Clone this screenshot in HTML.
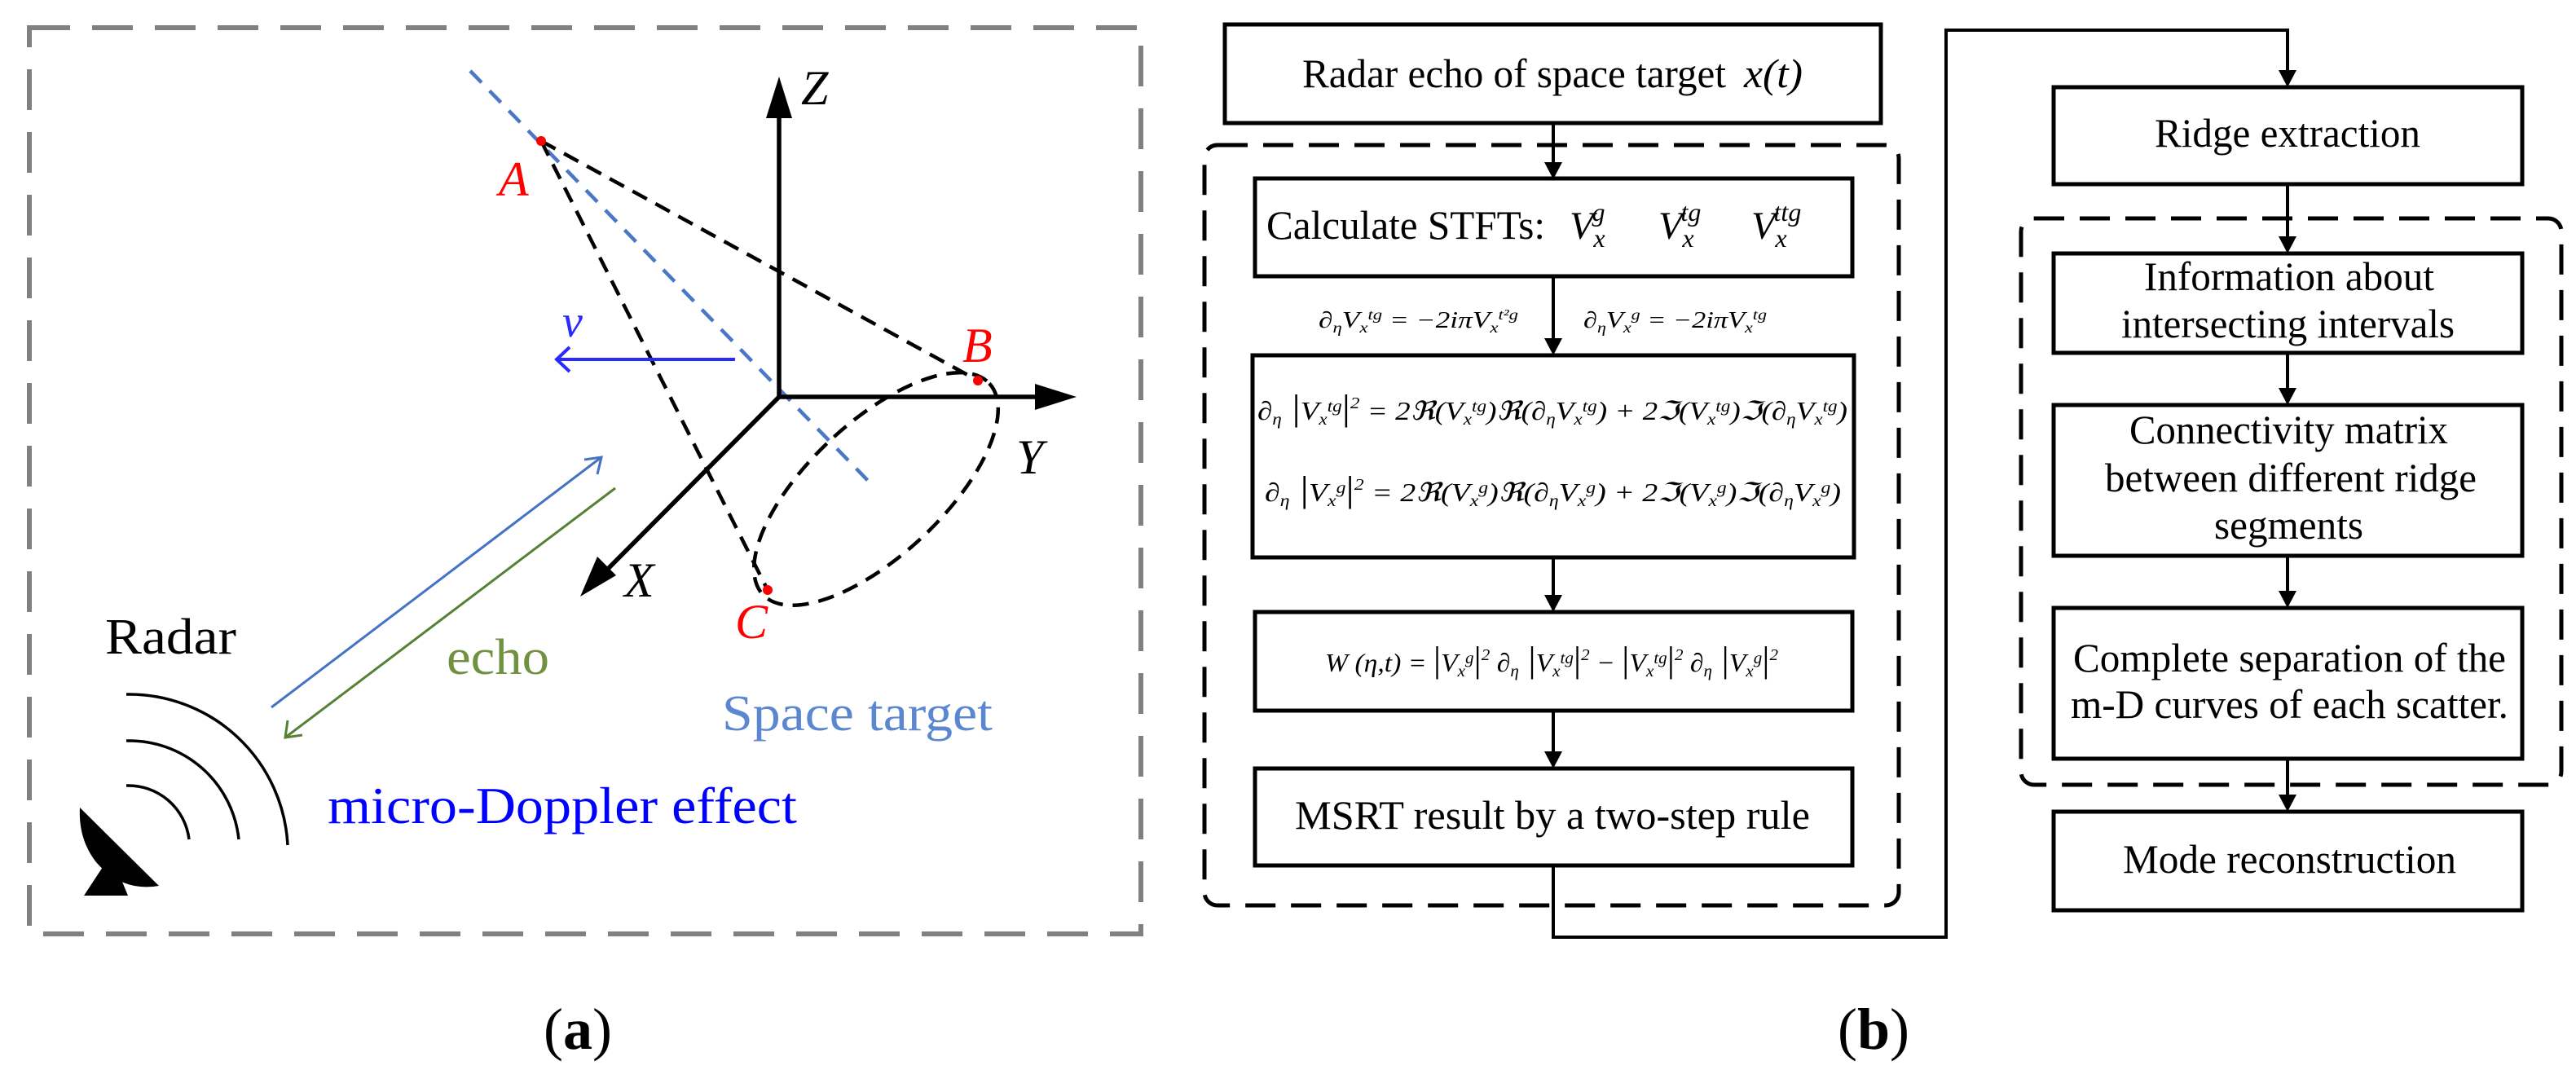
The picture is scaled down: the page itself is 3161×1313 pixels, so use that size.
<!DOCTYPE html>
<html><head><meta charset="utf-8"><style>
html,body{margin:0;padding:0;background:#fff;font-family:"Liberation Serif","Times New Roman",Times,"DejaVu Serif",serif;}
svg{display:block;}
</style></head><body>
<svg width="3161" height="1313" viewBox="0 0 3161 1313" xmlns="http://www.w3.org/2000/svg" style="font-family:'Liberation Serif','Times New Roman',Times,'DejaVu Serif',serif">
<g style="font-family:'Liberation Serif','Times New Roman',Times,'DejaVu Serif',serif">
<rect x="36" y="34" width="1364" height="1112" fill="none" stroke="#808080" stroke-width="6" stroke-dasharray="50,27"/>
<line x1="577" y1="87" x2="1074" y2="599" stroke="#4a78c6" stroke-width="4.5" stroke-dasharray="20,14"/>
<line x1="664" y1="173" x2="1200" y2="467" stroke="#000" stroke-width="4.5" stroke-dasharray="20,12"/>
<line x1="664" y1="173" x2="942" y2="724" stroke="#000" stroke-width="4.5" stroke-dasharray="20,12"/>
<ellipse cx="1075" cy="600" rx="190" ry="82" transform="rotate(-43 1075 600)" fill="none" stroke="#000" stroke-width="4.5" stroke-dasharray="20,12"/>
<line x1="956" y1="487" x2="956" y2="140" stroke="#000" stroke-width="5.5"/>
<polygon points="956,94 940,145 972,145" fill="#000"/>
<line x1="956" y1="487" x2="1275" y2="487" stroke="#000" stroke-width="5.5"/>
<polygon points="1321,487 1270,471 1270,503" fill="#000"/>
<line x1="956" y1="487" x2="740" y2="704" stroke="#000" stroke-width="5.5"/>
<polygon points="712,732 733,683 756,706" fill="#000"/>
<circle cx="664" cy="173" r="6" fill="#f00"/>
<circle cx="1200" cy="467" r="6" fill="#f00"/>
<circle cx="942" cy="724" r="6" fill="#f00"/>
<line x1="902" y1="441" x2="683" y2="441" stroke="#2a2aff" stroke-width="4"/>
<polyline points="699,426 683,441 699,456" fill="none" stroke="#2a2aff" stroke-width="4"/>
<line x1="333" y1="868" x2="738" y2="561" stroke="#4472c4" stroke-width="3"/>
<polyline points="717,564 738,561 733,582" fill="none" stroke="#4472c4" stroke-width="3"/>
<line x1="755" y1="599" x2="350" y2="905" stroke="#548235" stroke-width="3"/>
<polyline points="353,884 350,905 371,902" fill="none" stroke="#548235" stroke-width="3"/>
<path d="M155,852 A195,195 0 0 1 353,1037" fill="none" stroke="#000" stroke-width="3.5"/>
<path d="M155,909 A135,135 0 0 1 293,1030" fill="none" stroke="#000" stroke-width="3.5"/>
<path d="M155,964 A75,75 0 0 1 232,1030" fill="none" stroke="#000" stroke-width="3.5"/>
<path d="M98,991 L195,1087 Q150,1095 118,1058 Q96,1030 98,991 Z" fill="#000"/>
<polygon points="103,1099 157,1099 150,1082 126,1064" fill="#000"/>
<text x="129" y="802" font-size="62" textLength="161" lengthAdjust="spacingAndGlyphs">Radar</text>
<text x="548" y="827" font-size="62" fill="#6f9140" textLength="126" lengthAdjust="spacingAndGlyphs">echo</text>
<text x="886" y="896" font-size="62" fill="#5b87d0" textLength="332" lengthAdjust="spacingAndGlyphs">Space target</text>
<text x="402" y="1010" font-size="64" fill="#0000ff" textLength="576" lengthAdjust="spacingAndGlyphs">micro-Doppler effect</text>
<text x="612" y="240" font-size="60" fill="#f00" font-style="italic">A</text>
<text x="1181" y="444" font-size="60" fill="#f00" font-style="italic">B</text>
<text x="902" y="783" font-size="60" fill="#f00" font-style="italic">C</text>
<text x="983" y="128" font-size="60" font-style="italic">Z</text>
<text x="1247" y="581" font-size="60" font-style="italic">Y</text>
<text x="766" y="732" font-size="60" font-style="italic">X</text>
<text x="690" y="413" font-size="56" fill="#2a2aff" font-style="italic">v</text>
<text x="709" y="1287" font-size="72" text-anchor="middle">(<tspan font-weight="bold">a</tspan>)</text>

<g fill="none" stroke="#000" stroke-width="5">
<rect x="1503" y="30" width="805" height="121"/>
<rect x="1478" y="178" width="852" height="933" rx="16" stroke-dasharray="37,19"/>
<rect x="1540" y="219" width="733" height="120"/>
<rect x="1537" y="436" width="738" height="248"/>
<rect x="1540" y="751" width="733" height="121"/>
<rect x="1540" y="943" width="733" height="119"/>
<rect x="2520" y="107" width="575" height="119"/>
<rect x="2480" y="268" width="663" height="695" rx="16" stroke-dasharray="37,19"/>
<rect x="2520" y="311" width="575" height="122"/>
<rect x="2520" y="497" width="575" height="185"/>
<rect x="2520" y="746" width="575" height="185"/>
<rect x="2520" y="996" width="575" height="121"/>
</g>
<g stroke="#000" stroke-width="4" fill="none">
<line x1="1906" y1="151" x2="1906" y2="205"/>
<line x1="1906" y1="339" x2="1906" y2="420"/>
<line x1="1906" y1="684" x2="1906" y2="735"/>
<line x1="1906" y1="872" x2="1906" y2="927"/>
<polyline points="1906,1062 1906,1150 2388,1150 2388,37 2807,37 2807,92"/>
<line x1="2807" y1="226" x2="2807" y2="296"/>
<line x1="2807" y1="433" x2="2807" y2="482"/>
<line x1="2807" y1="682" x2="2807" y2="731"/>
<line x1="2807" y1="931" x2="2807" y2="981"/>
</g>
<g fill="#000">
<polygon points="1906,220 1895,199 1917,199"/>
<polygon points="1906,436 1895,415 1917,415"/>
<polygon points="1906,751 1895,730 1917,730"/>
<polygon points="1906,943 1895,922 1917,922"/>
<polygon points="2807,107 2796,86 2818,86"/>
<polygon points="2807,311 2796,290 2818,290"/>
<polygon points="2807,497 2796,476 2818,476"/>
<polygon points="2807,746 2796,725 2818,725"/>
<polygon points="2807,996 2796,975 2818,975"/>
</g>
<text x="1598" y="107" font-size="50" textLength="520" lengthAdjust="spacingAndGlyphs">Radar echo of space target</text>
<text x="2140" y="107" font-size="50" font-style="italic" textLength="72" lengthAdjust="spacingAndGlyphs">x(t)</text>
<text x="1554" y="293" font-size="50" textLength="342" lengthAdjust="spacingAndGlyphs">Calculate STFTs:</text>
<g font-size="48" font-style="italic">
<text x="1926" y="293">V<tspan font-size="32" dy="10">x</tspan><tspan font-size="32" dx="-16" dy="-32">g</tspan></text>
<text x="2035" y="293">V<tspan font-size="32" dy="10">x</tspan><tspan font-size="32" dx="-16" dy="-32">tg</tspan></text>
<text x="2149" y="293">V<tspan font-size="32" dy="10">x</tspan><tspan font-size="32" dx="-16" dy="-32">ttg</tspan></text>
</g>
<g font-size="28" font-style="italic">
<text x="1618" y="402" textLength="245" lengthAdjust="spacingAndGlyphs">∂<tspan font-size="18" dy="6">η</tspan><tspan dy="-6">V</tspan><tspan font-size="18" dy="6">x</tspan><tspan font-size="18" dy="-16">tg</tspan><tspan dy="10"> = −2iπV</tspan><tspan font-size="18" dy="6">x</tspan><tspan font-size="18" dy="-16">t²g</tspan></text>
<text x="1943" y="402" textLength="225" lengthAdjust="spacingAndGlyphs">∂<tspan font-size="18" dy="6">η</tspan><tspan dy="-6">V</tspan><tspan font-size="18" dy="6">x</tspan><tspan font-size="18" dy="-16">g</tspan><tspan dy="10"> = −2iπV</tspan><tspan font-size="18" dy="6">x</tspan><tspan font-size="18" dy="-16">tg</tspan></text>
</g>
<g font-size="32" font-style="italic">
<text x="1543" y="515" textLength="724" lengthAdjust="spacingAndGlyphs">∂<tspan font-size="20" dy="6">η</tspan><tspan dy="-6" font-size="44" font-style="normal"> |</tspan>V<tspan font-size="20" dy="6">x</tspan><tspan font-size="20" dy="-16">tg</tspan><tspan dy="10" font-size="44" font-style="normal">|</tspan><tspan font-size="20" dy="-14">2</tspan><tspan dy="14"> = 2ℜ(V</tspan><tspan font-size="20" dy="6">x</tspan><tspan font-size="20" dy="-16">tg</tspan><tspan dy="10">)ℜ(∂</tspan><tspan font-size="20" dy="6">η</tspan><tspan dy="-6">V</tspan><tspan font-size="20" dy="6">x</tspan><tspan font-size="20" dy="-16">tg</tspan><tspan dy="10">) + 2ℑ(V</tspan><tspan font-size="20" dy="6">x</tspan><tspan font-size="20" dy="-16">tg</tspan><tspan dy="10">)ℑ(∂</tspan><tspan font-size="20" dy="6">η</tspan><tspan dy="-6">V</tspan><tspan font-size="20" dy="6">x</tspan><tspan font-size="20" dy="-16">tg</tspan><tspan dy="10">)</tspan></text>
<text x="1552" y="615" textLength="707" lengthAdjust="spacingAndGlyphs">∂<tspan font-size="20" dy="6">η</tspan><tspan dy="-6" font-size="44" font-style="normal"> |</tspan>V<tspan font-size="20" dy="6">x</tspan><tspan font-size="20" dy="-16">g</tspan><tspan dy="10" font-size="44" font-style="normal">|</tspan><tspan font-size="20" dy="-14">2</tspan><tspan dy="14"> = 2ℜ(V</tspan><tspan font-size="20" dy="6">x</tspan><tspan font-size="20" dy="-16">g</tspan><tspan dy="10">)ℜ(∂</tspan><tspan font-size="20" dy="6">η</tspan><tspan dy="-6">V</tspan><tspan font-size="20" dy="6">x</tspan><tspan font-size="20" dy="-16">g</tspan><tspan dy="10">) + 2ℑ(V</tspan><tspan font-size="20" dy="6">x</tspan><tspan font-size="20" dy="-16">g</tspan><tspan dy="10">)ℑ(∂</tspan><tspan font-size="20" dy="6">η</tspan><tspan dy="-6">V</tspan><tspan font-size="20" dy="6">x</tspan><tspan font-size="20" dy="-16">g</tspan><tspan dy="10">)</tspan></text>
<text x="1626" y="824" textLength="556" lengthAdjust="spacingAndGlyphs">W (η,t) = <tspan font-size="44" font-style="normal">|</tspan>V<tspan font-size="20" dy="6">x</tspan><tspan font-size="20" dy="-16">g</tspan><tspan dy="10" font-size="44" font-style="normal">|</tspan><tspan font-size="20" dy="-14">2</tspan><tspan dy="14"> ∂</tspan><tspan font-size="20" dy="6">η</tspan><tspan dy="-6" font-size="44" font-style="normal"> |</tspan>V<tspan font-size="20" dy="6">x</tspan><tspan font-size="20" dy="-16">tg</tspan><tspan dy="10" font-size="44" font-style="normal">|</tspan><tspan font-size="20" dy="-14">2</tspan><tspan dy="14"> − </tspan><tspan font-size="44" font-style="normal">|</tspan>V<tspan font-size="20" dy="6">x</tspan><tspan font-size="20" dy="-16">tg</tspan><tspan dy="10" font-size="44" font-style="normal">|</tspan><tspan font-size="20" dy="-14">2</tspan><tspan dy="14"> ∂</tspan><tspan font-size="20" dy="6">η</tspan><tspan dy="-6" font-size="44" font-style="normal"> |</tspan>V<tspan font-size="20" dy="6">x</tspan><tspan font-size="20" dy="-16">g</tspan><tspan dy="10" font-size="44" font-style="normal">|</tspan><tspan font-size="20" dy="-14">2</tspan></text>
</g>
<text x="1589" y="1017" font-size="50" textLength="632" lengthAdjust="spacingAndGlyphs">MSRT result  by a two-step rule</text>
<g font-size="50">
<text x="2644" y="180" textLength="326" lengthAdjust="spacingAndGlyphs">Ridge extraction</text>
<text x="2631" y="356" textLength="356" lengthAdjust="spacingAndGlyphs">Information about</text>
<text x="2603" y="414" textLength="409" lengthAdjust="spacingAndGlyphs">intersecting intervals</text>
<text x="2613" y="544" textLength="391" lengthAdjust="spacingAndGlyphs">Connectivity matrix</text>
<text x="2583" y="603" textLength="456" lengthAdjust="spacingAndGlyphs">between different ridge</text>
<text x="2717" y="661" textLength="183" lengthAdjust="spacingAndGlyphs">segments</text>
<text x="2544" y="824" textLength="531" lengthAdjust="spacingAndGlyphs">Complete separation of the</text>
<text x="2541" y="881" textLength="537" lengthAdjust="spacingAndGlyphs">m-D curves of each scatter.</text>
<text x="2605" y="1071" textLength="409" lengthAdjust="spacingAndGlyphs">Mode reconstruction</text>
</g>
<text x="2299" y="1287" font-size="72" text-anchor="middle">(<tspan font-weight="bold">b</tspan>)</text>
</g>
</svg>
</body></html>
